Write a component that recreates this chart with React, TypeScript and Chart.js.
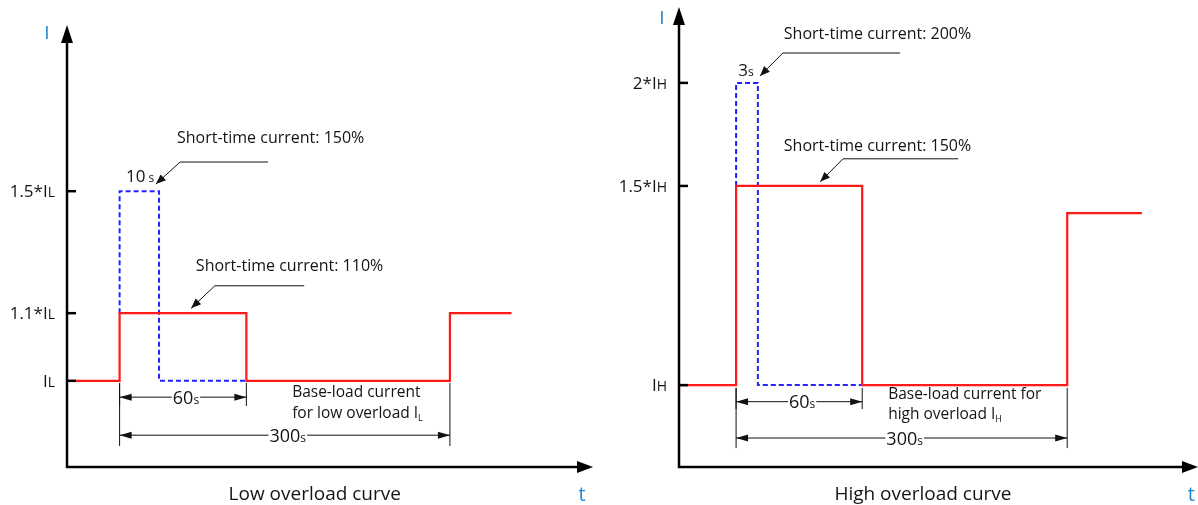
import React, { useEffect, useRef } from "react";
import { Chart, registerables } from "chart.js";
Chart.register(...registerables);

// ---------- DATA (schematic units: axis origin = 0, axis end = 100) ----------
// Low overload curve
const lowRedT = [1.5, 10, 10, 34.1, 34.1, 72.8, 72.8, 84.5];
const lowRedI = [19.5, 19.5, 34.8, 34.8, 19.5, 19.5, 34.8, 34.8];
const lowBlueT = [10, 10, 17.5, 17.5, 34.1];
const lowBlueI = [34.8, 62.4, 62.4, 19.5, 19.5];
const lowLevels = [19.5, 34.8, 62.4];
const lowTickLabels = ["I", "1.1*I", "1.5*I"];
const lowTickSub = "L";

// High overload curve
const highRedT = [0, 11, 11, 35.3, 35.3, 74.8, 74.8, 89.2];
const highRedI = [17.8, 17.8, 61.1, 61.1, 17.8, 17.8, 55.2, 55.2];
const highBlueT = [11, 11, 15.2, 15.2, 35.3];
const highBlueI = [61.1, 83.5, 83.5, 17.8, 17.8];
const highLevels = [17.8, 61.1, 83.5];
const highTickLabels = ["I", "1.5*I", "2*I"];
const highTickSub = "H";

// ---------- STYLE / LAYOUT ----------
const FONT = '"Open Sans", "Noto Sans", sans-serif';
const RED = "#ff1a1a";
const BLUE = "#2323ff";
const AXIS_BLUE = "#1f86d3";
const TEXT = "#141414";

type Part = { t: string; size: number; dy?: number };

function drawRich(ctx: CanvasRenderingContext2D, parts: Part[], x: number, baseY: number, align: "left" | "right" | "center", color = TEXT) {
  ctx.save();
  ctx.textBaseline = "alphabetic";
  ctx.textAlign = "left";
  ctx.fillStyle = color;
  let total = 0;
  const widths = parts.map((p) => {
    ctx.font = `${p.size}px ${FONT}`;
    const w = ctx.measureText(p.t).width;
    total += w;
    return w;
  });
  let sx = align === "left" ? x : align === "right" ? x - total : x - total / 2;
  parts.forEach((p, i) => {
    ctx.font = `${p.size}px ${FONT}`;
    ctx.fillText(p.t, sx, baseY + (p.dy || 0));
    sx += widths[i];
  });
  ctx.restore();
  return total;
}

function arrowHead(ctx: CanvasRenderingContext2D, tx: number, ty: number, fx: number, fy: number, len: number, half: number) {
  const a = Math.atan2(ty - fy, tx - fx);
  const bx = tx - len * Math.cos(a);
  const by = ty - len * Math.sin(a);
  ctx.beginPath();
  ctx.moveTo(tx, ty);
  ctx.lineTo(bx + half * Math.sin(a), by - half * Math.cos(a));
  ctx.lineTo(bx - half * Math.sin(a), by + half * Math.cos(a));
  ctx.closePath();
  ctx.fill();
}

type Callout = { text: string; textX: number; textY: number; x1: number; x2: number; ly: number; tipX: number; tipY: number };
type Dim = { from: number; to: number; y: number; label: string; extTop: number; extBottom: number };

type Panel = {
  redT: number[]; redI: number[]; blueT: number[]; blueI: number[];
  levels: number[]; tickLabels: string[]; tickSub: string;
  padding: { left: number; right: number; top: number; bottom: number };
  title: string; titleX: number; titleY: number;
  tLabel: [number, number]; iLabel: [number, number];
  callouts: Callout[];
  dur: { label: string; gap: string; x: number; y: number };
  dims: Dim[];
  base: { l1: string; l2: string; sub: string; x: number; y1: number; y2: number };
};

const lowPanel: Panel = {
  redT: lowRedT, redI: lowRedI, blueT: lowBlueT, blueI: lowBlueI,
  levels: lowLevels, tickLabels: lowTickLabels, tickSub: lowTickSub,
  padding: { left: 67, right: 7, top: 25, bottom: 38 },
  title: "Low overload curve", titleX: 47.1, titleY: -5.9,
  tLabel: [97.9, -6.1], iLabel: [-3.8, 98.4],
  callouts: [
    { text: "Short-time current: 150%", textX: 20.9, textY: 74.7, x1: 21.5, x2: 38.2, ly: 69.0, tipX: 16.9, tipY: 64.0 },
    { text: "Short-time current: 110%", textX: 24.5, textY: 45.7, x1: 28.1, x2: 45.1, ly: 41.0, tipX: 23.6, tipY: 35.9 },
  ],
  dur: { label: "10", gap: " ", x: 11.2, y: 65.8 },
  dims: [
    { from: 10, to: 34.1, y: 15.8, label: "60", extTop: 19.0, extBottom: 13.8 },
    { from: 10, to: 72.8, y: 7.2, label: "300", extTop: 19.0, extBottom: 4.75 },
  ],
  base: { l1: "Base-load current", l2: "for low overload I", sub: "L", x: 42.8, y1: 17.0, y2: 12.4 },
};

const highPanel: Panel = {
  redT: highRedT, redI: highRedI, blueT: highBlueT, blueI: highBlueI,
  levels: highLevels, tickLabels: highTickLabels, tickSub: highTickSub,
  padding: { left: 79, right: 0, top: 7, bottom: 38 },
  title: "High overload curve", titleX: 47.0, titleY: -5.65,
  tLabel: [98.7, -5.9], iLabel: [-3.3, 97.8],
  callouts: [
    { text: "Short-time current: 200%", textX: 20.2, textY: 94.3, x1: 20.0, x2: 42.6, ly: 90.0, tipX: 15.6, tipY: 85.0 },
    { text: "Short-time current: 150%", textX: 20.2, textY: 70.0, x1: 31.6, x2: 53.8, ly: 67.0, tipX: 27.2, tipY: 62.0 },
  ],
  dur: { label: "3", gap: "", x: 11.4, y: 86.3 },
  dims: [
    { from: 11, to: 35.3, y: 14.2, label: "60", extTop: 17.2, extBottom: 12.6 },
    { from: 11, to: 74.8, y: 6.3, label: "300", extTop: 17.2, extBottom: 4.1 },
  ],
  base: { l1: "Base-load current for", l2: "high overload I", sub: "H", x: 40.3, y1: 15.9, y2: 11.7 },
};

function makePlugin(p: Panel) {
  return {
    id: "schematic",
    afterDatasetsDraw(chart: any) {
      const ctx: CanvasRenderingContext2D = chart.ctx;
      const xs = chart.scales.x;
      const ys = chart.scales.y;
      const X = (v: number) => xs.getPixelForValue(v);
      const Y = (v: number) => ys.getPixelForValue(v);
      const { top, right } = chart.chartArea;
      const x0 = X(0);
      const y0 = Y(0);
      ctx.save();
      // axes
      ctx.strokeStyle = "#000";
      ctx.fillStyle = "#000";
      ctx.lineWidth = 2.5;
      ctx.beginPath();
      ctx.moveTo(x0, y0 + 1.2);
      ctx.lineTo(x0, top + 12);
      ctx.moveTo(x0 - 1.2, y0);
      ctx.lineTo(right - 12, y0);
      ctx.stroke();
      arrowHead(ctx, x0, top, x0, top + 30, 18, 6);
      arrowHead(ctx, right, y0, right - 30, y0, 16, 6);
      // ticks + labels
      p.levels.forEach((lv, i) => {
        const py = Y(lv);
        ctx.beginPath();
        ctx.lineWidth = 2.5;
        ctx.moveTo(x0, py);
        ctx.lineTo(x0 + 9, py);
        ctx.stroke();
        drawRich(ctx, [{ t: p.tickLabels[i], size: 17 }, { t: p.tickSub, size: 14 }], x0 - 12, py + 6, "right");
      });
      // axis names
      drawRich(ctx, [{ t: "I", size: 19 }], X(p.iLabel[0]), Y(p.iLabel[1]) + 7, "center", AXIS_BLUE);
      drawRich(ctx, [{ t: "t", size: 20 }], X(p.tLabel[0]), Y(p.tLabel[1]) + 7, "center", AXIS_BLUE);
      // title
      drawRich(ctx, [{ t: p.title, size: 19 }], X(p.titleX), Y(p.titleY) + 7, "center");
      // callouts
      ctx.lineWidth = 1;
      ctx.strokeStyle = "#111";
      ctx.fillStyle = "#111";
      p.callouts.forEach((c) => {
        ctx.beginPath();
        ctx.moveTo(X(c.x2), Y(c.ly));
        ctx.lineTo(X(c.x1), Y(c.ly));
        ctx.lineTo(X(c.tipX), Y(c.tipY));
        ctx.stroke();
        arrowHead(ctx, X(c.tipX), Y(c.tipY), X(c.x1), Y(c.ly), 10, 4);
        drawRich(ctx, [{ t: c.text, size: 16 }], X(c.textX), Y(c.textY) + 6, "left");
      });
      // duration label
      drawRich(ctx, [{ t: p.dur.label, size: 17 }, { t: p.dur.gap + "s", size: 12 }], X(p.dur.x), Y(p.dur.y) + 6, "left");
      // dimension lines
      p.dims.forEach((d) => {
        ctx.strokeStyle = "#111";
        ctx.fillStyle = "#111";
        ctx.lineWidth = 1;
        ctx.beginPath();
        [d.from, d.to].forEach((t) => {
          ctx.moveTo(X(t), Y(d.extTop));
          ctx.lineTo(X(t), Y(d.extBottom));
        });
        const ax1 = X(d.from), ax2 = X(d.to), ay = Y(d.y);
        ctx.moveTo(ax1, ay);
        ctx.lineTo(ax2, ay);
        ctx.stroke();
        arrowHead(ctx, ax1, ay, ax2, ay, 12, 3.5);
        arrowHead(ctx, ax2, ay, ax1, ay, 12, 3.5);
        // label with white gap
        ctx.font = `18px ${FONT}`;
        const w1 = ctx.measureText(d.label).width;
        ctx.font = `12px ${FONT}`;
        const w2 = ctx.measureText("s").width;
        const mid = (ax1 + ax2) / 2 + 3;
        ctx.fillStyle = "#fff";
        ctx.fillRect(mid - (w1 + w2) / 2 - 1, ay - 8, w1 + w2 + 2, 16);
        drawRich(ctx, [{ t: d.label, size: 18 }, { t: "s", size: 12 }], mid, ay + 6.5, "center");
      });
      // base-load text
      drawRich(ctx, [{ t: p.base.l1, size: 15.5 }], X(p.base.x), Y(p.base.y1) + 5.5, "left");
      drawRich(ctx, [{ t: p.base.l2, size: 15.5 }, { t: p.base.sub, size: 9, dy: 3 }], X(p.base.x), Y(p.base.y2) + 5.5, "left");
      ctx.restore();
    },
  };
}

function makeConfig(p: Panel): any {
  const red = p.redT.map((t, i) => ({ x: t, y: p.redI[i] }));
  const blue = p.blueT.map((t, i) => ({ x: t, y: p.blueI[i] }));
  return {
    type: "scatter",
    data: {
      datasets: [
        { label: "Overload current", data: red, showLine: true, borderColor: RED, borderWidth: 2.2, pointRadius: 0, fill: false, tension: 0 },
        { label: "Short-time current", data: blue, showLine: true, borderColor: BLUE, borderWidth: 2, borderDash: [5, 3], pointRadius: 0, fill: false, tension: 0 },
      ],
    },
    options: {
      animation: false,
      responsive: false,
      devicePixelRatio: 1,
      layout: { padding: p.padding },
      plugins: { legend: { display: false }, tooltip: { enabled: false }, title: { display: false } },
      scales: {
        x: { type: "linear", min: 0, max: 100, display: false },
        y: { type: "linear", min: 0, max: 100, display: false },
      },
    },
    plugins: [makePlugin(p)],
  };
}

export default function App() {
  const leftRef = useRef<HTMLCanvasElement | null>(null);
  const rightRef = useRef<HTMLCanvasElement | null>(null);
  useEffect(() => {
    const c1 = new Chart(leftRef.current as HTMLCanvasElement, makeConfig(lowPanel));
    const c2 = new Chart(rightRef.current as HTMLCanvasElement, makeConfig(highPanel));
    return () => {
      c1.destroy();
      c2.destroy();
    };
  }, []);
  return (
    <div style={{ position: "absolute", left: 0, top: 0, width: 1198, height: 505, background: "#fff", overflow: "hidden" }}>
      <canvas ref={leftRef} width={600} height={505} style={{ position: "absolute", left: 0, top: 0, width: 600, height: 505 }} />
      <canvas ref={rightRef} width={598} height={505} style={{ position: "absolute", left: 600, top: 0, width: 598, height: 505 }} />
    </div>
  );
}
